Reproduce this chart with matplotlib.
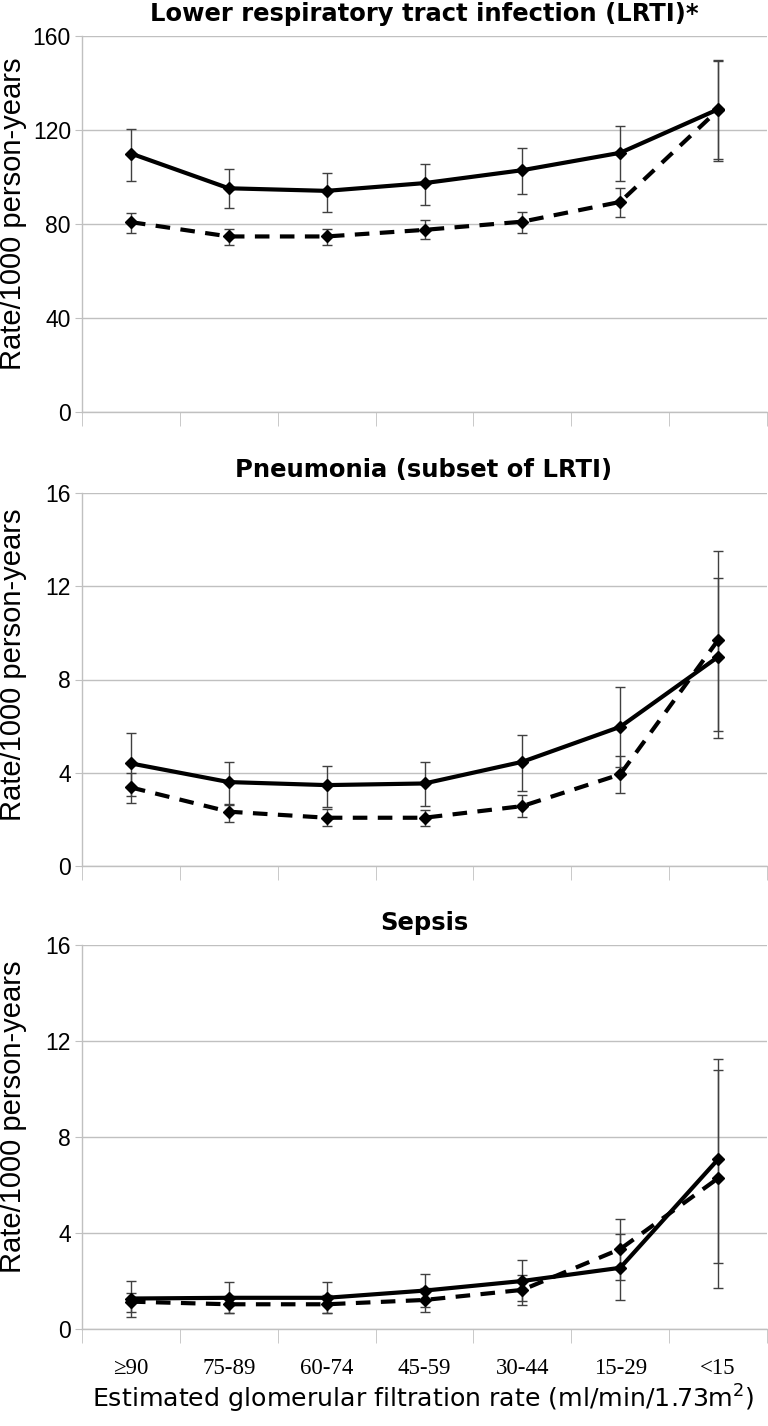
import numpy as np
import matplotlib.pyplot as plt
from matplotlib.ticker import FixedLocator

# categories of eGFR
groups = ['\u226590', '75-89', '60-74', '45-59', '30-44', '15-29', '<15']

# LRTI rates (solid / dashed) with 95% CI
lrti_solid = [110, 95.2, 94.1, 97.4, 102.9, 110.3, 128.8]
lrti_solid_lo = [98.5, 86.6, 85.3, 87.9, 92.8, 98.5, 107.6]
lrti_solid_hi = [120.5, 103.5, 101.6, 105.4, 112.2, 121.6, 149.8]
lrti_dash = [80.8, 74.7, 74.7, 77.5, 81.0, 89.4, 128.5]
lrti_dash_lo = [76.0, 71.0, 71.0, 73.5, 76.1, 82.9, 107.0]
lrti_dash_hi = [84.8, 77.7, 77.7, 81.5, 85.3, 95.2, 149.4]

# pneumonia
pneu_solid = [4.4, 3.6, 3.47, 3.54, 4.47, 5.97, 8.97]
pneu_solid_lo = [3.01, 2.61, 2.51, 2.59, 3.21, 4.26, 5.5]
pneu_solid_hi = [5.71, 4.47, 4.3, 4.47, 5.61, 7.69, 12.36]
pneu_dash = [3.37, 2.33, 2.07, 2.07, 2.57, 3.93, 9.69]
pneu_dash_lo = [2.71, 1.9, 1.71, 1.71, 2.09, 3.11, 5.8]
pneu_dash_hi = [3.97, 2.64, 2.43, 2.4, 3.04, 4.73, 13.5]

# sepsis
seps_solid = [1.27, 1.3, 1.3, 1.6, 2.0, 2.55, 7.07]
seps_solid_lo = [0.51, 0.66, 0.66, 0.9, 1.15, 1.21, 2.76]
seps_solid_hi = [2.01, 1.94, 1.95, 2.29, 2.87, 3.94, 11.24]
seps_dash = [1.14, 1.03, 1.03, 1.21, 1.63, 3.33, 6.28]
seps_dash_lo = [0.72, 0.68, 0.65, 0.72, 1.0, 2.04, 1.70]
seps_dash_hi = [1.49, 1.38, 1.4, 1.7, 2.25, 4.58, 10.79]

titles = ['Lower respiratory tract infection (LRTI)*', 'Pneumonia (subset of LRTI)', 'Sepsis']
ylabel = 'Rate/1000 person-years'
xlabel = 'Estimated glomerular filtration rate (ml/min/1.73m$^2$)'

W, H = 768, 1426
fig = plt.figure(figsize=(W / 100, H / 100), dpi=100)

# (top px, bottom px) of each plot area
boxes = [(36, 412), (493, 866), (945, 1329)]
title_y = [14, 470, 923]
label_y = [214, 665, 1117]
ymaxs = [160, 16, 16]
ysteps = [40, 4, 4]

panels = [
    (lrti_solid, lrti_solid_lo, lrti_solid_hi, lrti_dash, lrti_dash_lo, lrti_dash_hi),
    (pneu_solid, pneu_solid_lo, pneu_solid_hi, pneu_dash, pneu_dash_lo, pneu_dash_hi),
    (seps_solid, seps_solid_lo, seps_solid_hi, seps_dash, seps_dash_lo, seps_dash_hi),
]

grid_col = '#c0c0c0'
x = np.arange(len(groups))

for i, (s, slo, shi, d, dlo, dhi) in enumerate(panels):
    top, bot = boxes[i]
    ax = fig.add_axes([82 / W, 1 - bot / H, (767 - 82) / W, (bot - top) / H])
    s, slo, shi = np.array(s), np.array(slo), np.array(shi)
    d, dlo, dhi = np.array(d), np.array(dlo), np.array(dhi)

    ax.errorbar(x, s, yerr=[s - slo, shi - s], fmt='none', ecolor='#404040',
                elinewidth=1, capsize=3.5, capthick=1, zorder=2)
    ax.errorbar(x, d, yerr=[d - dlo, dhi - d], fmt='none', ecolor='#404040',
                elinewidth=1, capsize=3.5, capthick=1, zorder=2)
    ax.plot(x, s, '-', color='black', lw=3, marker='D', ms=6.5, zorder=3)
    ax.plot(x, d, color='black', lw=3, dashes=(3.5, 2.5), marker='D', ms=6.5, zorder=3)

    ax.set_xlim(-0.5, len(groups) - 0.5)
    ax.set_ylim(0, ymaxs[i])
    ax.set_yticks(np.arange(0, ymaxs[i] + 1, ysteps[i]))
    ax.yaxis.grid(True, color=grid_col, lw=1)
    ax.set_axisbelow(True)
    for side in ['top', 'right']:
        ax.spines[side].set_visible(False)
    for side in ['left', 'bottom']:
        ax.spines[side].set_color(grid_col)
        ax.spines[side].set_linewidth(1)
    ax.tick_params(axis='y', length=5, color=grid_col, pad=3, labelsize=16.5)
    for lab in ax.get_yticklabels():
        lab.set_family('Liberation Sans')

    ax.set_xticks(x)
    ax.xaxis.set_minor_locator(FixedLocator(np.arange(-0.5, len(groups), 1.0)))
    ax.tick_params(axis='x', which='minor', length=10, color=grid_col)
    if i == 2:
        ax.tick_params(axis='x', which='major', length=0, pad=21, labelsize=16.5)
        ax.set_xticklabels(groups, family=['Liberation Serif', 'DejaVu Serif'])
    else:
        ax.tick_params(axis='x', which='major', length=0, labelbottom=False)

    fig.text(424 / W, 1 - title_y[i] / H, titles[i], ha='center', va='center',
             fontsize=17.5, fontweight='bold', family='DejaVu Sans')
    fig.text(13 / W, 1 - label_y[i] / H, ylabel, rotation=90, ha='center', va='center',
             fontsize=21, family='Liberation Sans')

fig.text(423 / W, 1 - 1408 / H, xlabel, ha='center', va='baseline',
         fontsize=18.2, family='DejaVu Sans')

fig.savefig('out.png', dpi=100)
